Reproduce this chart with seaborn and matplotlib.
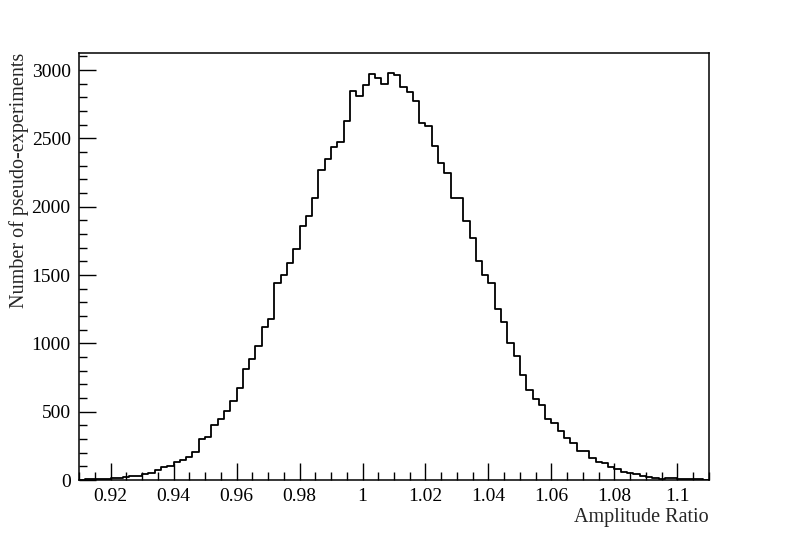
import numpy as np
import pandas as pd
import matplotlib
matplotlib.use("Agg")
import matplotlib.pyplot as plt
import seaborn as sns
from matplotlib.ticker import MultipleLocator, FuncFormatter

# 100 bins of width 0.002 between 0.91 and 1.11
x_min, x_max, n_bins = 0.91, 1.11, 100
counts = [
    2, 4, 7, 8, 10, 14, 16, 20, 26, 32,
    44, 54, 71, 98, 100, 134, 146, 166, 202, 298,
    317, 402, 450, 505, 580, 673, 810, 885, 983, 1122,
    1178, 1444, 1502, 1585, 1688, 1858, 1932, 2063, 2266, 2346,
    2439, 2476, 2629, 2849, 2812, 2890, 2968, 2945, 2900, 2980,
    2965, 2873, 2841, 2775, 2610, 2590, 2446, 2317, 2249, 2061,
    2066, 1893, 1768, 1600, 1500, 1439, 1249, 1159, 1005, 907,
    766, 656, 595, 549, 448, 415, 361, 305, 268, 215,
    213, 160, 135, 128, 95, 80, 62, 52, 42, 33,
    25, 14, 10, 12, 15, 8, 6, 4, 5, 2,
]
x_label = "Amplitude Ratio"
y_label = "Number of pseudo-experiments"

edges = np.linspace(x_min, x_max, n_bins + 1)
df = pd.DataFrame({
    "ratio": 0.5 * (edges[:-1] + edges[1:]),
    "n": counts,
})

sns.set_style("ticks")
plt.rcParams["font.family"] = ["Liberation Serif", "DejaVu Serif"]

fig = plt.figure(figsize=(7.88, 5.34), dpi=100)
ax = fig.add_axes([0.1003, 0.1011, 0.7994, 0.7996])

sns.histplot(data=df, x="ratio", weights="n", bins=list(edges),
             element="step", fill=False, color="black", linewidth=1.3, ax=ax)

ax.set_xlim(x_min, x_max)
ax.set_ylim(0, 3125)
ax.xaxis.set_major_locator(MultipleLocator(0.02))
ax.xaxis.set_minor_locator(MultipleLocator(0.005))
ax.yaxis.set_major_locator(MultipleLocator(500))
ax.yaxis.set_minor_locator(MultipleLocator(100))
ax.xaxis.set_major_formatter(FuncFormatter(lambda v, p: f"{v:g}"))
ax.yaxis.set_major_formatter(FuncFormatter(lambda v, p: f"{v:g}"))

ax.tick_params(which="both", direction="in", top=False, right=False,
               labelsize=14, colors="black", width=1)
ax.tick_params(which="major", length=12, pad=6)
ax.tick_params(which="minor", length=6)
for s in ax.spines.values():
    s.set_linewidth(1.1)
    s.set_color("black")

ax.set_xlabel(x_label, loc="right", fontsize=14.5, labelpad=2)
ax.set_ylabel(y_label, loc="top", fontsize=14.5, labelpad=2)

fig.savefig("out.png", dpi=100, facecolor="white")
